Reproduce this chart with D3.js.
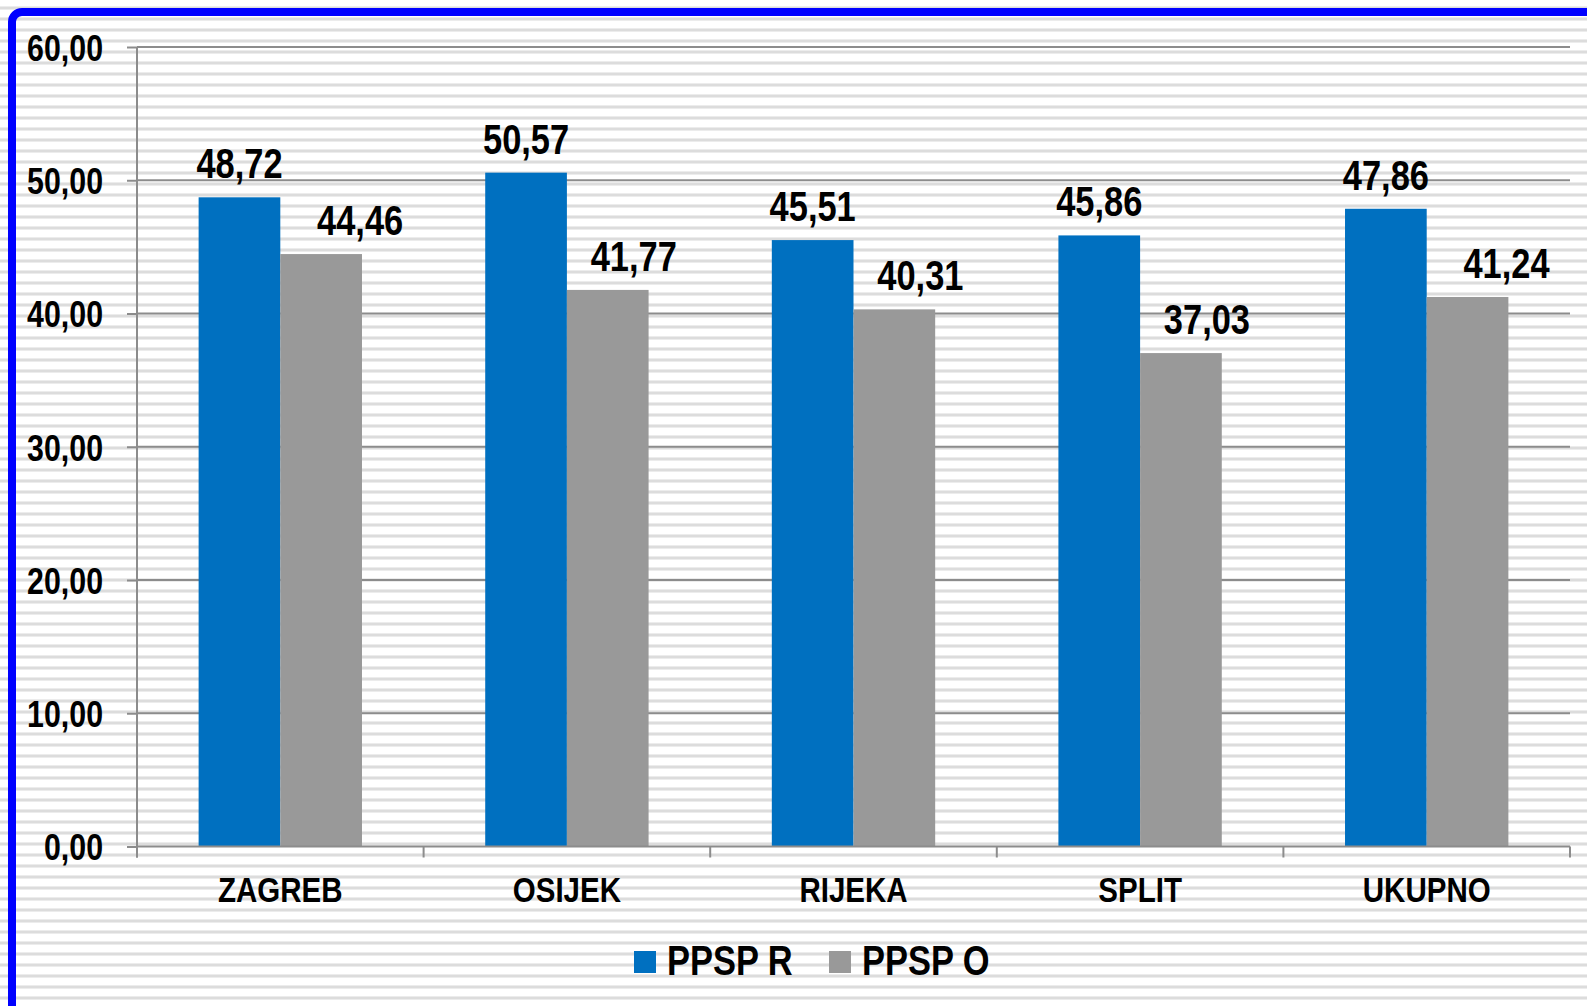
<!DOCTYPE html>
<html>
<head>
<meta charset="utf-8">
<script src="https://cdn.jsdelivr.net/npm/d3@7"></script>
<style>
  html, body { margin: 0; padding: 0; background: #fff; overflow: hidden; }
  text { font-family: "Liberation Sans", Arial, sans-serif; font-weight: bold; fill: #000; }
</style>
</head>
<body>
<div id="barChart"></div>
<script>
//Data
var categories = ["ZAGREB", "OSIJEK", "RIJEKA", "SPLIT", "UKUPNO"];
var seriesNames = ["PPSP R", "PPSP O"];
var ppspR = [48.72, 50.57, 45.51, 45.86, 47.86];
var ppspO = [44.46, 41.77, 40.31, 37.03, 41.24];
var yTicks = [0, 10, 20, 30, 40, 50, 60];
var colors = ["#0070c0", "#999999"];

//Width and height
var w = 1587;
var h = 1006;
var plotLeft = 137, plotRight = 1570, plotTop = 47, plotBottom = 846.5;

//grey value labels are nudged right of their bar (px)
var greyLabelShift = [39, 26, 26, 26, 39];

//narrow font look: squeeze bold text horizontally
var sx = 0.82;

var fmt = function(v) { return v.toFixed(2).replace(".", ","); };

var svg = d3.select("#barChart")
  .append("svg")
  .attr("width", w)
  .attr("height", h);

//striped background
var defs = svg.append("defs");
var pat = defs.append("pattern")
  .attr("id", "stripes")
  .attr("patternUnits", "userSpaceOnUse")
  .attr("width", 10)
  .attr("height", 11);
pat.append("rect").attr("width", 10).attr("height", 11).attr("fill", "#ffffff");
pat.append("rect").attr("y", 6).attr("width", 10).attr("height", 4).attr("fill", "#ececec");
pat.append("rect").attr("y", 7).attr("width", 10).attr("height", 2).attr("fill", "#dcdcdc");

svg.append("rect")
  .attr("width", w)
  .attr("height", h)
  .attr("fill", "url(#stripes)");

//blue frame, only top and left edges visible
svg.append("rect")
  .attr("x", 12)
  .attr("y", 12)
  .attr("width", w + 100)
  .attr("height", h + 100)
  .attr("rx", 10)
  .attr("fill", "none")
  .attr("stroke", "#0000ff")
  .attr("stroke-width", 8);

//scales
var y = d3.scaleLinear().domain([0, 60]).range([plotBottom, plotTop]);

var x0 = d3.scaleBand()
  .domain(categories)
  .range([plotLeft, plotRight])
  .paddingInner(0.43)
  .paddingOuter(0.215);

var x1 = d3.scaleBand()
  .domain(seriesNames)
  .range([0, x0.bandwidth()]);

//gridlines
svg.append("g")
  .selectAll("line")
  .data(yTicks.filter(function(d) { return d > 0; }))
  .enter()
  .append("line")
  .attr("x1", plotLeft)
  .attr("x2", plotRight)
  .attr("y1", function(d) { return y(d); })
  .attr("y2", function(d) { return y(d); })
  .attr("stroke", "#8c8c8c")
  .attr("stroke-width", 2);

//y axis
var yAxis = d3.axisLeft(y)
  .tickValues(yTicks)
  .tickSize(10)
  .tickPadding(24)
  .tickFormat(fmt);

var gy = svg.append("g")
  .attr("transform", "translate(" + plotLeft + ",0)")
  .call(yAxis)
  .attr("font-family", null)
  .attr("font-size", null);
gy.select(".domain").attr("stroke", "#8c8c8c").attr("stroke-width", 2)
  .attr("d", "M0," + plotTop + "V" + (plotBottom + 11));
gy.selectAll(".tick line").attr("stroke", "#8c8c8c").attr("stroke-width", 2);
gy.selectAll(".tick text")
  .attr("font-size", "37px")
  .attr("fill", "#000")
  .attr("x", -34 / sx)
  .attr("dy", "0.36em")
  .attr("transform", "scale(" + sx + ",1)");

//bars
var groups = svg.append("g")
  .selectAll("g")
  .data(categories)
  .enter()
  .append("g")
  .attr("transform", function(d) { return "translate(" + x0(d) + ",0)"; });

var rows = function(i) {
  return [{ s: seriesNames[0], v: ppspR[i], c: colors[0], shift: 0 },
          { s: seriesNames[1], v: ppspO[i], c: colors[1], shift: greyLabelShift[i] }];
};

groups.selectAll("rect")
  .data(function(d, i) { return rows(i); })
  .enter()
  .append("rect")
  .attr("x", function(d) { return x1(d.s); })
  .attr("y", function(d) { return y(d.v); })
  .attr("width", x1.bandwidth())
  .attr("height", function(d) { return y(0) - y(d.v); })
  .attr("fill", function(d) { return d.c; });

//value labels
groups.selectAll("text")
  .data(function(d, i) { return rows(i); })
  .enter()
  .append("text")
  .text(function(d) { return fmt(d.v); })
  .attr("text-anchor", "middle")
  .attr("transform", function(d) {
    var lx = x1(d.s) + x1.bandwidth() / 2 + d.shift;
    return "translate(" + lx + "," + (y(d.v) - 19) + ") scale(" + sx + ",1)";
  })
  .attr("font-size", "42px");

//x axis
var xAxis = d3.axisBottom(x0).tickSize(0).tickPadding(0);
var gx = svg.append("g")
  .attr("transform", "translate(0," + plotBottom + ")")
  .call(xAxis)
  .attr("font-family", null)
  .attr("font-size", null);
gx.select(".domain").attr("stroke", "#8c8c8c").attr("stroke-width", 2)
  .attr("d", "M" + plotLeft + ",0H" + plotRight);
gx.selectAll(".tick text")
  .attr("font-size", "36px")
  .attr("fill", "#000")
  .attr("dy", null)
  .attr("y", 56)
  .attr("transform", "scale(" + sx + ",1)");

//category boundary ticks
svg.append("g")
  .selectAll("line")
  .data(d3.range(categories.length + 1))
  .enter()
  .append("line")
  .attr("x1", function(i) { return plotLeft + i * x0.step(); })
  .attr("x2", function(i) { return plotLeft + i * x0.step(); })
  .attr("y1", plotBottom)
  .attr("y2", plotBottom + 11)
  .attr("stroke", "#8c8c8c")
  .attr("stroke-width", 2);

//legend
var legendX = [634, 829];
var legend = svg.append("g")
  .selectAll("g")
  .data(seriesNames)
  .enter()
  .append("g")
  .attr("transform", function(d, i) { return "translate(" + legendX[i] + ",951)"; });

legend.append("rect")
  .attr("width", 22)
  .attr("height", 22)
  .attr("fill", function(d, i) { return colors[i]; });

legend.append("text")
  .text(function(d) { return d; })
  .attr("transform", "translate(33,24) scale(" + sx + ",1)")
  .attr("font-size", "42px");
</script>
</body>
</html>
